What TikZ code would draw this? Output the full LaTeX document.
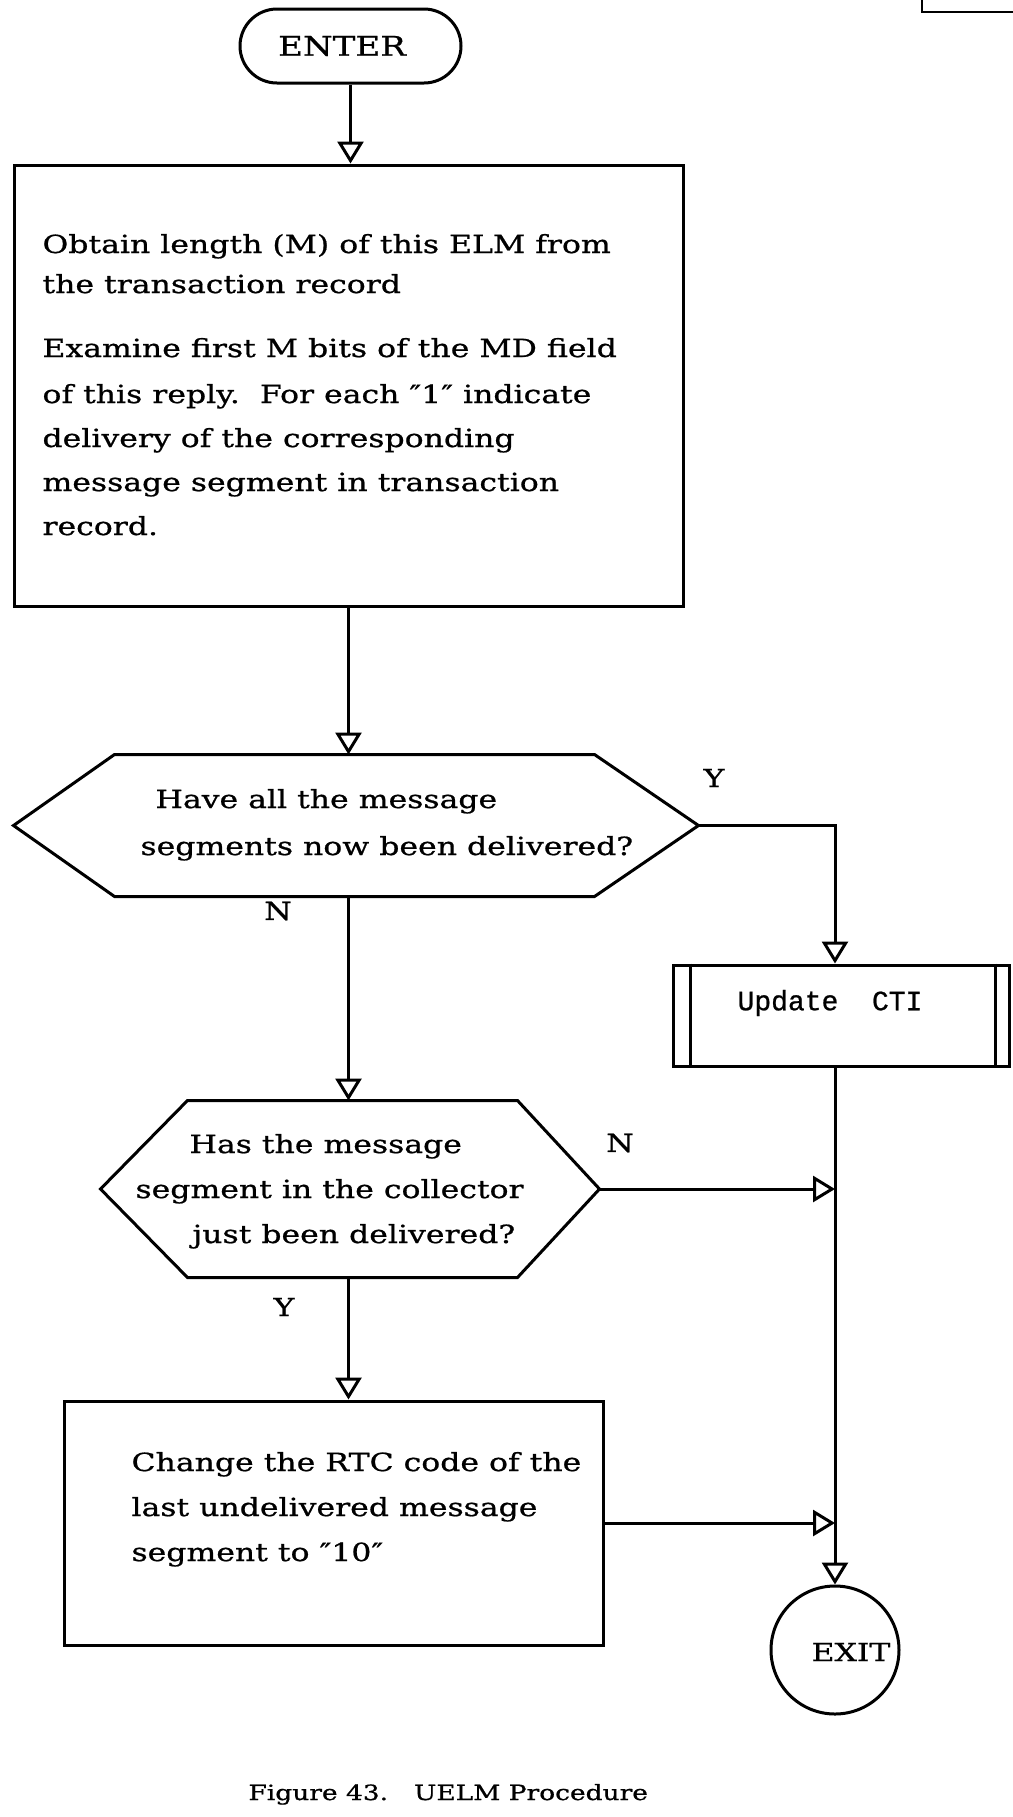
\documentclass[tikz,border=0pt]{standalone}
\usepackage{fontspec}
\setmainfont{DejaVu Serif}[FakeStretch=1.26,FakeBold=0.8]
\newfontfamily\typefont{Liberation Mono}[FakeBold=0.8]
\usetikzlibrary{arrows.meta,calc}
\newcommand{\dq}{″}
\begin{document}
\begin{tikzpicture}[x=0.5pt,y=-0.5pt,
  line width=1.5pt,
  arr/.style={-{Triangle[open,length=11pt,width=13pt,line width=1.5pt]}},
  body/.style={font=\fontsize{12.5}{15}\selectfont, inner sep=0pt},
  ln/.style={body, anchor=base west},
  lbl/.style={body, anchor=center},
  shapebox/.style={draw, inner sep=0pt}]
\path[use as bounding box] (0,0) rectangle (1013,1817);
% page-number fragment at top right
\draw[line width=1.4pt] (922,0) -- (922,12) -- (1013,12);

% nodes
\node[shapebox, rounded corners=18.5pt, minimum width=110.5pt, minimum height=37pt] (enter) at (350.5,46) {};
\node[body, anchor=center] (entertxt) at (342,46) {\fontsize{13.5}{16}\selectfont ENTER};

\node[shapebox, minimum width=334.5pt, minimum height=220.5pt] (box1) at (348.5,385.5) {};
\node[ln] (b1l1) at (41,253) {Obtain length (M) of this ELM from};
\node[ln] (b1l2) at (41,293) {the transaction record};
\node[ln] (b1l3) at (41,357) {Examine first M bits of the MD field};
\node[ln] (b1l4) at (41,403) {of this reply.\ \ For each \dq1\dq{} indicate};
\node[ln] (b1l5) at (41,447) {delivery of the corresponding};
\node[ln] (b1l6) at (41,491) {message segment in transaction};
\node[ln] (b1l7) at (41,535) {record.};

\node[inner sep=0pt, minimum width=341pt, minimum height=69.5pt] (h1) at (356,825.5) {};
\draw (h1.west) -- ($(h1.north west)+(101,0)$) -- ($(h1.north east)+(-104,0)$) -- (h1.east)
      -- ($(h1.south east)+(-104,0)$) -- ($(h1.south west)+(101,0)$) -- cycle;
\node[ln] (h1l1) at (154,808) {Have all the message};
\node[ln] (h1l2) at (139,855) {segments now been delivered?};

\coordinate (vx) at (835,0);

\node[shapebox, minimum width=168pt, minimum height=50.5pt] (cti) at (841,1015.5) {};
\draw ($(cti.north west)+(19,0)$) -- ($(cti.south west)+(19,0)$);
\draw ($(cti.north east)+(-15,0)$) -- ($(cti.south east)+(-15,0)$);
\node[inner sep=0pt, anchor=center, font=\typefont\fontsize{14}{16}\selectfont] (ctitxt) at (830,1003) {Update\ \ CTI};

\node[inner sep=0pt, minimum width=248pt, minimum height=87pt] (h2) at (350,1189) {};
\draw (h2.west) -- ($(h2.north west)+(87,0)$) -- ($(h2.north east)+(-82,0)$) -- (h2.east)
      -- ($(h2.south east)+(-82,0)$) -- ($(h2.south west)+(87,0)$) -- cycle;
\node[ln] (h2l1) at (188,1153) {Has the message};
\node[ln] (h2l2) at (134,1198) {segment in the collector};
\node[ln] (h2l3) at (191,1243) {just been delivered?};

\node[shapebox, minimum width=269.5pt, minimum height=122pt] (box3) at (333.5,1523) {};
\node[ln] (b3l1) at (130,1471) {Change the RTC code of the};
\node[ln] (b3l2) at (130,1516) {last undelivered message};
\node[ln] (b3l3) at (130,1561) {segment to \dq10\dq};

\node[shapebox, circle, minimum size=64pt] (exit) at (835,1650) {};
\node[body, anchor=center] (exittxt) at (851,1652) {\fontsize{12.5}{15}\selectfont EXIT};

% labels
\node[lbl] (ly1) at (714,778) {Y};
\node[lbl] (ln1) at (278,911) {N};
\node[lbl] (ln2) at (620,1143) {N};
\node[lbl] (ly2) at (284,1307) {Y};

% caption
\node[body, anchor=base west, font=\fontsize{10.5}{13}\selectfont] (cap) at (247,1800) {Figure 43.\hspace{13pt}UELM Procedure};

% connectors
\draw[arr] (enter.south) -- (enter.south |- box1.north);
\draw[arr] (box1.south) -- (box1.south |- h1.north);
\draw[arr] (h1.east) -| (vx |- cti.north);
\draw[arr] (box1.south |- h1.south) -- (box1.south |- h2.north);
\draw[arr] (h2.east) -- (h2.east -| vx);
\draw[arr] (box1.south |- h2.south) -- (box1.south |- box3.north);
\draw[arr] (box3.east) -- (box3.east -| vx);
\draw[arr] (vx |- cti.south) -- (exit.north);
\end{tikzpicture}
\end{document}
